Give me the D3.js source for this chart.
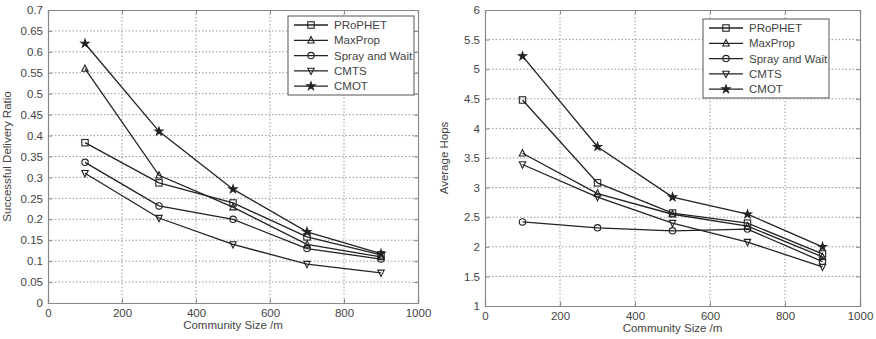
<!DOCTYPE html>
<html>
<head>
<meta charset="utf-8">
<script src="https://cdn.jsdelivr.net/npm/d3@7"></script>
<style>
  body { margin: 0; background: #fff; }
  text { font-family: "Liberation Sans", Arial, sans-serif; fill: #444; }
</style>
</head>
<body>
<div id="chart"></div>
<script>
var width = 876, height = 339;

// Params / data
var sizes = [100, 300, 500, 700, 900];
var seriesNames = ["PRoPHET", "MaxProp", "Spray and Wait", "CMTS", "CMOT"];
var markers = ["square", "triangle", "circle", "triangleDown", "star"];

// left: successful delivery ratio
var ratioProphet = [0.383, 0.287, 0.239, 0.158, 0.115];
var ratioMaxProp = [0.56, 0.305, 0.229, 0.14, 0.11];
var ratioSpray   = [0.336, 0.232, 0.2, 0.13, 0.105];
var ratioCMTS    = [0.31, 0.203, 0.14, 0.093, 0.072];
var ratioCMOT    = [0.62, 0.41, 0.272, 0.17, 0.118];

// right: average hops
var hopsProphet = [4.48, 3.08, 2.57, 2.4, 1.88];
var hopsMaxProp = [3.58, 2.9, 2.55, 2.35, 1.83];
var hopsSpray   = [2.42, 2.32, 2.27, 2.3, 1.75];
var hopsCMTS    = [3.39, 2.84, 2.4, 2.08, 1.66];
var hopsCMOT    = [5.22, 3.69, 2.84, 2.55, 2.0];

var xTicks = [0, 200, 400, 600, 800, 1000];
var ratioTicks = d3.range(0, 0.7001, 0.05);
var hopsTicks = d3.range(1, 6.001, 0.5);

var svg = d3.select('#chart').append('svg')
    .attr('width', width)
    .attr('height', height);

function drawPanel(opt) {
  var x = d3.scaleLinear().domain([0, 1000]).range([opt.left, opt.right]);
  var y = d3.scaleLinear().domain(opt.yDomain).range([opt.bottom, opt.top]);
  var g = svg.append('g');

  // grid
  g.selectAll('.gx').data(xTicks.slice(1, -1)).enter().append('line')
    .attr('x1', d => x(d)).attr('x2', d => x(d))
    .attr('y1', opt.top).attr('y2', opt.bottom)
    .attr('stroke', '#999').attr('stroke-dasharray', '1.5,2');
  g.selectAll('.gy').data(opt.yTicks.slice(1, -1)).enter().append('line')
    .attr('x1', opt.left).attr('x2', opt.right)
    .attr('y1', d => y(d)).attr('y2', d => y(d))
    .attr('stroke', '#999').attr('stroke-dasharray', '1.5,2');

  // axes
  var bottomAxis = d3.axisBottom(x).tickValues(xTicks).tickSize(-4).tickPadding(6).tickFormat(d3.format('d'));
  var leftAxis = d3.axisLeft(y).tickValues(opt.yTicks).tickSize(-4).tickPadding(5).tickFormat(d => +d.toFixed(2) + '');
  var topAxis = d3.axisTop(x).tickValues(xTicks).tickSize(-4).tickFormat('');
  var rightAxis = d3.axisRight(y).tickValues(opt.yTicks).tickSize(-4).tickFormat('');

  [[bottomAxis, `translate(0,${opt.bottom})`], [leftAxis, `translate(${opt.left},0)`],
   [topAxis, `translate(0,${opt.top})`], [rightAxis, `translate(${opt.right},0)`]].forEach(function(a) {
    var ax = g.append('g').attr('transform', a[1]).call(a[0]);
    ax.select('.domain').attr('stroke', '#888').attr('stroke-width', 1.2);
    ax.selectAll('.tick line').attr('stroke', '#888');
    ax.selectAll('text').style('font-size', '11.5px').attr('fill', '#444')
      .style('font-family', '"Liberation Sans", Arial, sans-serif');
  });

  // labels
  g.append('text').attr('x', (opt.left + opt.right) / 2).attr('y', opt.bottom + 26)
    .attr('text-anchor', 'middle').style('font-size', '11.5px').text('Community Size /m');
  g.append('text')
    .attr('transform', `translate(${opt.left - 37},${(opt.top + opt.bottom) / 2})rotate(-90)`)
    .attr('text-anchor', 'middle').style('font-size', '11.5px').text(opt.yLabel);

  // series
  var line = d3.line().x((d, i) => x(sizes[i])).y(d => y(d));
  opt.series.forEach(function(vals, k) {
    g.append('path').datum(vals).attr('d', line)
      .attr('fill', 'none').attr('stroke', '#222').attr('stroke-width', 1.3);
    vals.forEach(function(v, i) {
      drawMarker(g, markers[k], x(sizes[i]), y(v));
    });
  });

  // legend
  var lg = g.append('g').attr('transform', `translate(${opt.legX},${opt.legY})`);
  lg.append('rect').attr('width', 126).attr('height', 79)
    .attr('fill', '#fff').attr('stroke', '#555').attr('stroke-width', 1);
  seriesNames.forEach(function(name, k) {
    var yy = 9 + k * 15.3;
    lg.append('line').attr('x1', 6).attr('x2', 40).attr('y1', yy).attr('y2', yy)
      .attr('stroke', '#222').attr('stroke-width', 1.3);
    drawMarker(lg, markers[k], 23, yy);
    lg.append('text').attr('x', 46).attr('y', yy + 4).style('font-size', '11.5px').text(name);
  });
}

function drawMarker(g, type, cx, cy) {
  var s = 3.2;
  var m;
  if (type === 'square') {
    m = g.append('rect').attr('x', cx - s).attr('y', cy - s).attr('width', 2 * s).attr('height', 2 * s);
  } else if (type === 'circle') {
    m = g.append('circle').attr('cx', cx).attr('cy', cy).attr('r', s);
  } else if (type === 'triangle') {
    m = g.append('path').attr('d', `M${cx},${cy - s - 0.5}L${cx + s},${cy + s - 0.5}L${cx - s},${cy + s - 0.5}Z`);
  } else if (type === 'triangleDown') {
    m = g.append('path').attr('d', `M${cx},${cy + s + 0.5}L${cx + s},${cy - s + 0.5}L${cx - s},${cy - s + 0.5}Z`);
  } else {
    m = g.append('path').attr('d', d3.symbol().type(d3.symbolStar).size(20)())
      .attr('transform', `translate(${cx},${cy})`);
  }
  m.attr('fill', type === 'star' ? '#222' : 'none').attr('stroke', '#222').attr('stroke-width', 1.1);
}

drawPanel({
  left: 48, right: 418, top: 10, bottom: 303,
  yDomain: [0, 0.7], yTicks: ratioTicks, yLabel: 'Successful Delivery Ratio',
  series: [ratioProphet, ratioMaxProp, ratioSpray, ratioCMTS, ratioCMOT],
  legX: 288, legY: 16
});

drawPanel({
  left: 485, right: 860, top: 10, bottom: 306,
  yDomain: [1, 6], yTicks: hopsTicks, yLabel: 'Average Hops',
  series: [hopsProphet, hopsMaxProp, hopsSpray, hopsCMTS, hopsCMOT],
  legX: 703, legY: 19
});
</script>
</body>
</html>
